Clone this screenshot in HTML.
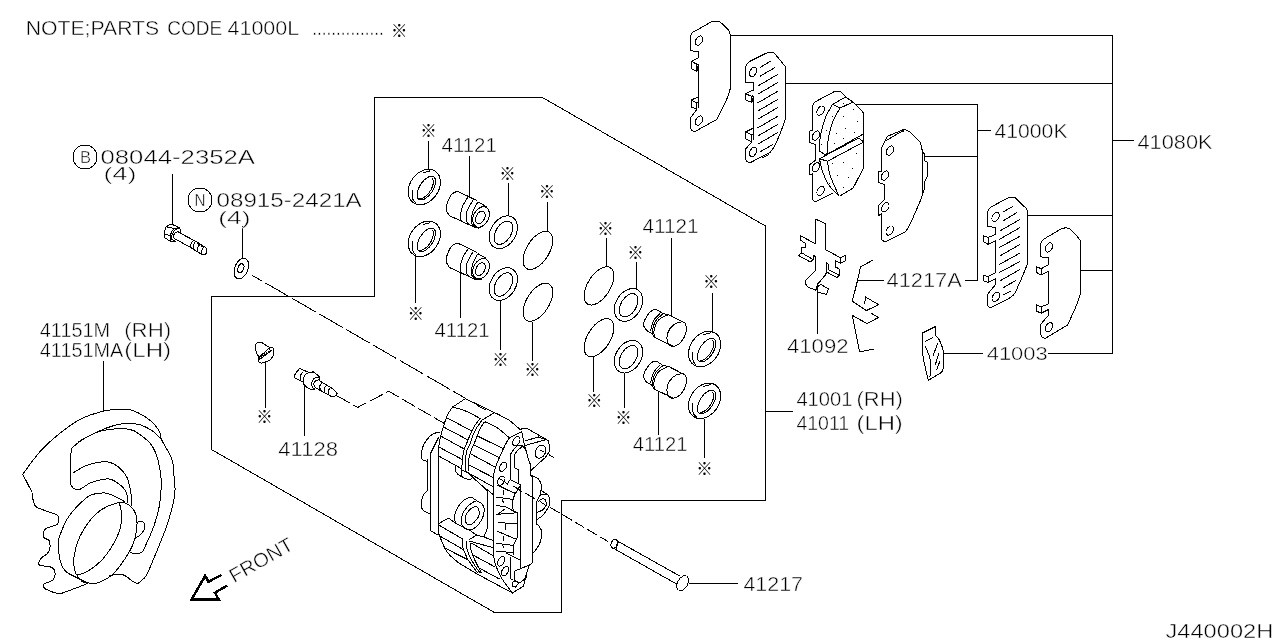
<!DOCTYPE html>
<html lang="en"><head><meta charset="utf-8"><title>Brake caliper parts diagram</title>
<style>
html,body{margin:0;padding:0;background:#fff}
body{width:1280px;height:640px;overflow:hidden}
svg{display:block;will-change:transform}
.l{fill:none;stroke:#000;stroke-width:1}
.t{font-family:"Liberation Sans","Noto Sans CJK JP",sans-serif;fill:#000;stroke:#fff;stroke-width:.45px}
.r{font-family:"Liberation Sans","Noto Sans CJK JP",sans-serif;fill:#000;font-size:16.5px;text-anchor:middle}
</style></head><body>
<svg width="1280" height="640" viewBox="0 0 1280 640" shape-rendering="crispEdges">
<g class="l">
<path d="M374.5 97.5 L542.5 97.5 L765.5 226 L765.5 500.5 L561.5 500.5 L561.5 612.5 L494.5 612.5 L211.5 449.5 L211.5 296.5 L374.5 296.5Z"/>
<path d="M730.5 35.5 L1112.5 35.5 L1112.5 353.5 L1048 353.5"/>
<path d="M785.5 83.5 L1112.5 83.5"/>
<path d="M1027.5 215.5 L1112.5 215.5"/>
<path d="M1080.5 270.5 L1112.5 270.5"/>
<path d="M1112.5 140.5 L1134 140.5"/>
<path d="M855 104.5 L977.5 104.5 L977.5 280.5 L964.5 280.5"/>
<path d="M924.5 156.5 L977.5 156.5"/>
<path d="M977.5 130.5 L990.5 130.5"/>
<path d="M857.5 280.5 L884 280.5"/>
<path d="M944 353.5 L982.5 353.5"/>
<path d="M765.5 411.5 L793 411.5"/>
<path d="M688.5 583.5 L738 583.5"/>
<path d="M172.5 174 L172.5 224.5"/>
<path d="M242.5 226 L242.5 257.5"/>
<path d="M103.5 360.5 L103.5 411"/>
<path d="M265.5 361 L265.5 407.5"/>
<path d="M304.5 386 L304.5 436"/>
<path d="M428.5 140.5 L428.5 169"/>
<path d="M469.5 156 L469.5 196"/>
<path d="M508.5 183 L508.5 216"/>
<path d="M547.5 202 L547.5 231"/>
<path d="M415.5 254.5 L415.5 302.5"/>
<path d="M460.5 267 L460.5 317.5"/>
<path d="M500.5 301 L500.5 349.5"/>
<path d="M532.5 321.5 L532.5 360.5"/>
<path d="M606.5 238 L606.5 267"/>
<path d="M636.5 262 L636.5 288.5"/>
<path d="M671.5 237.5 L671.5 315.5"/>
<path d="M712.5 292.5 L712.5 333"/>
<path d="M593.5 356.5 L593.5 391.5"/>
<path d="M624.5 373.5 L624.5 407.5"/>
<path d="M658.5 392 L658.5 434.5"/>
<path d="M704.5 418.5 L704.5 457.5"/>
<path d="M817.5 291.5 L817.5 333.5"/>
<path d="M22.7 474.2 C25.82 470.17 34.77 457.16 41.4 450 C48.03 442.84 55.86 436.46 62.5 431.25 C69.14 426.04 74.5 422.08 81.25 418.75 C88 415.42 97.04 412.81 103 411.25 C108.96 409.69 112.55 409.66 117 409.4 C121.45 409.14 126.28 409.18 129.7 409.7 C133.12 410.22 134.12 410.73 137.5 412.5 C140.88 414.27 146.35 417.18 150 420.3 C153.65 423.43 157.45 428 159.4 431.25 C161.35 434.5 159.62 435.11 161.7 439.8 C163.78 444.49 169.82 453.03 171.9 459.4 C173.98 465.77 173.68 472.9 174.2 478 C174.72 483.1 175.25 485.4 175 490 C174.75 494.6 174.27 499.1 172.7 505.6 C171.13 512.1 168.34 521.18 165.6 529 C162.86 536.82 159.37 544.93 156.25 552.5 C153.13 560.07 149.38 569.72 146.9 574.4 C144.43 579.08 142.97 579.1 141.4 580.6 C139.83 582.1 138.93 583.27 137.5 583.4 C136.07 583.53 134.88 582.7 132.8 581.4 C130.72 580.1 127.34 576.83 125 575.6 C122.66 574.37 121.35 573.93 118.75 574 C116.15 574.07 110.96 575.67 109.4 576"/>
<path d="M22.7 474.2 L32 492.2"/>
<path d="M32 492.2 C32.05 493 32.03 495.53 32.3 497 C32.57 498.47 32.87 499.3 33.6 501 C34.33 502.7 32.93 504.92 36.7 507.2 C40.48 509.48 52.6 512.73 56.25 514.7 C59.9 516.67 58.48 517.38 58.6 519 C58.73 520.62 59.22 522.73 57 524.4 C54.78 526.07 47.57 526.92 45.3 529 C43.03 531.08 42.75 534.93 43.4 536.9 C44.05 538.87 48.15 538.72 49.2 540.8 C50.25 542.88 50.08 547.2 49.7 549.4 C49.32 551.6 48.42 552.44 46.9 554 C45.38 555.56 41.85 556.92 40.6 558.75 C39.35 560.58 37.57 563.58 39.4 565 C41.23 566.42 49 566 51.6 567.3 C54.2 568.6 54.77 570.72 55 572.8 C55.23 574.88 54.75 577.97 53 579.8 C51.25 581.62 46.1 582.72 44.5 583.75 C42.9 584.78 43.18 585.09 43.4 586 C43.62 586.91 43.45 587.97 45.8 589.2 C48.15 590.43 54.57 592.82 57.5 593.4 C60.43 593.98 58.32 594.37 63.4 592.7 C68.48 591.03 83.9 584.95 88 583.4"/>
<path d="M78 442 C81.15 440.33 90.63 434.83 96.9 432 C103.17 429.17 110.42 426.43 115.6 425 C120.78 423.57 123.83 423.4 128 423.4 C132.17 423.4 136.43 423.69 140.6 425 C144.77 426.31 149.48 428.78 153 431.25 C156.52 433.72 160.25 438.38 161.7 439.8"/>
<path d="M71 485 C71 479.67 70.33 459.62 71 453 C71.67 446.38 71.21 448.53 75 445.3 C78.79 442.07 88.02 436.25 93.75 433.6 C99.48 430.95 103.41 430.1 109.4 429.4 C115.39 428.7 124.5 428.47 129.7 429.4 C134.9 430.33 136.95 432.35 140.6 435 C144.25 437.65 148.73 441.23 151.6 445.3 C154.47 449.37 156.23 453.95 157.8 459.4 C159.37 464.85 160.47 472.9 161 478 C161.53 483.1 161.27 485.4 161 490 C160.73 494.6 160.58 499.6 159.4 505.6 C158.22 511.6 156.51 518.7 153.9 526 C151.29 533.3 145.83 544.98 143.75 549.4 C141.67 553.82 142.69 551.73 141.4 552.5 C140.11 553.27 137.82 554 136 554 C134.18 554 131.42 552.75 130.5 552.5"/>
<path d="M136.7 522.8 C137.35 522.54 139.3 521.12 140.6 521.25 C141.9 521.38 143.85 522.31 144.5 523.6 C145.15 524.89 145.15 527.18 144.5 529 C143.85 530.82 142.15 532.93 140.6 534.5 C139.05 536.07 136.1 537.75 135.2 538.4"/>
<path d="M73.4 472.7 C75.23 471.65 80.48 468.1 84.4 466.4 C88.32 464.7 92.73 463.2 96.9 462.5 C101.07 461.8 105.76 461.42 109.4 462.2 C113.04 462.98 115.88 464.8 118.75 467.2 C121.62 469.6 124.64 472.8 126.6 476.6 C128.56 480.4 129.72 486.2 130.5 490 C131.28 493.8 131.12 496.8 131.25 499.4 C131.38 502 131.25 504.57 131.25 505.6"/>
<path d="M71 485 C71.53 485.62 72.75 488.02 74.2 488.75 C75.65 489.48 76.97 490.39 79.7 489.4 C82.43 488.41 86.72 484.47 90.6 482.8 C94.48 481.13 99.6 479.97 103 479.4 C106.4 478.83 108.12 478.47 111 479.4 C113.88 480.33 117.97 483.23 120.3 485 C122.63 486.77 123.83 488.12 125 490 C126.17 491.88 126.8 494.03 127.3 496.25 C127.8 498.47 127.88 502.12 128 503.3"/>
<path d="M125 501.7 C122.4 500.42 113.3 495.45 109.4 494 C105.5 492.55 105.25 492.5 101.6 493 C97.95 493.5 92.97 493.07 87.5 497 C82.03 500.93 73.43 509.95 68.75 516.6 C64.07 523.25 61.09 531.96 59.4 536.9 C57.71 541.84 58.5 542.35 58.6 546.25 C58.7 550.15 58.83 556.13 60 560.3 C61.17 564.47 62.83 568.38 65.6 571.25 C68.37 574.12 72.82 575.48 76.6 577.5 C80.38 579.52 86.35 582.42 88.3 583.4"/>
<path d="M120.3 502.5 C124.75 501.98 127.08 503.52 129.7 505.6 C132.32 507.68 134.83 511.1 136 515 C137.17 518.9 137.23 524.05 136.7 529 C136.17 533.95 134.75 539.74 132.8 544.7 C130.85 549.66 128.38 553.8 125 558.75 C121.62 563.7 117.18 570.36 112.5 574.4 C107.82 578.44 101.58 581.7 96.9 583 C92.22 584.3 87.01 582.6 84.4 582.2 C81.79 581.8 82.82 582.43 81.25 580.6 C79.68 578.77 76.17 575.42 75 571.25 C73.83 567.08 73.42 561.33 74.2 555.6 C74.98 549.88 76.97 542.88 79.7 536.9 C82.43 530.92 86.72 524.39 90.6 519.7 C94.48 515.01 98.05 511.62 103 508.75 C107.95 505.88 115.85 503.02 120.3 502.5Z"/>
<path d="M119.5 503.3 C119.9 505.75 122.32 512.4 121.9 518 C121.48 523.6 120.15 530.11 117 536.9 C113.85 543.69 107.92 553.02 103 558.75 C98.08 564.48 91.9 568.51 87.5 571.25 C83.1 573.99 78.42 574.54 76.6 575.2"/>
<path d="M465 398.5 L499.5 415 L509.7 420.5 L520.6 429.8"/>
<path d="M465 398.9 L452.5 407.1"/>
<path d="M452.5 407.1 C451.85 408.08 449.77 410.85 448.6 413 C447.43 415.15 446.42 417.53 445.5 420 C444.58 422.47 443.88 425.2 443.1 427.8 C442.32 430.4 441.45 433.07 440.8 435.6 C440.15 438.13 439.6 440.27 439.2 443 C438.8 445.73 438.53 450.5 438.4 452"/>
<path d="M452.5 407.1 C454.07 407.5 458.77 408.39 461.9 409.5 C465.02 410.61 468 412.13 471.25 413.75 C474.5 415.37 479.71 418.29 481.4 419.2"/>
<path d="M482.2 420 L494.7 412.6"/>
<path d="M484.5 421.6 C486.55 422.58 492.63 424.77 496.8 427.5 C500.97 430.23 507.38 436.25 509.5 438"/>
<path d="M477.1 405.7 L485.7 410"/>
<path d="M479.8 418.8 C478.9 420.04 475.95 423.72 474.4 426.25 C472.85 428.78 471.68 431.39 470.5 434 C469.32 436.61 468.35 439.4 467.3 441.9 C466.25 444.4 465.03 446.07 464.2 449 C463.37 451.93 462.68 456.18 462.3 459.5 C461.92 462.82 462.02 466.23 461.9 468.9 C461.78 471.57 461.65 474.4 461.6 475.5"/>
<path d="M482.2 420 C481.28 421.3 478.27 425.2 476.7 427.8 C475.13 430.4 473.97 432.73 472.8 435.6 C471.63 438.47 470.67 442.57 469.7 445 C468.73 447.43 467.72 447.65 467 450.2 C466.28 452.75 465.67 456.92 465.4 460.3 C465.13 463.68 465.4 468.8 465.4 470.5"/>
<path d="M484.5 421.6 C483.72 422.9 481.1 426.8 479.8 429.4 C478.5 432 477.73 434.6 476.7 437.2 C475.67 439.8 474.51 442.83 473.6 445 C472.69 447.17 472.1 447.65 471.25 450.2 C470.4 452.75 469.02 456.79 468.5 460.3 C467.98 463.81 468.17 469.43 468.1 471.25"/>
<path d="M447.4 418 L471.6 431"/>
<path d="M443.5 427 L468.1 440"/>
<path d="M440 435.6 L464.2 449"/>
<path d="M438.8 447 L462.3 459.5"/>
<path d="M438.8 456 L461.9 468.9"/>
<path d="M477.5 436 L503.7 449"/>
<path d="M473.6 445 L499.4 457.6"/>
<path d="M470.9 454 L495.5 467.3"/>
<path d="M468.9 465 L493.3 477.5"/>
<path d="M468.1 472.8 L493.3 486.9"/>
<path d="M521.8 431.8 C519.78 432.83 512.37 435.98 509.7 438 C507.03 440.02 506.97 441.87 505.8 443.9 C504.63 445.93 503.77 447.92 502.7 450.2 C501.63 452.48 500.32 455.5 499.4 457.6 C498.48 459.7 498.02 460.63 497.2 462.8 C496.38 464.97 495.13 468 494.5 470.6 C493.87 473.2 493.58 475.17 493.4 478.4 C493.22 481.63 493.4 488.07 493.4 490"/>
<path d="M493.4 490 L493.4 555.5"/>
<path d="M493.4 555.5 C493.83 557.25 494.68 562.29 496 566 C497.32 569.71 498.55 573.25 501.3 577.75 C504.05 582.25 510.63 590.46 512.5 593"/>
<path d="M438.4 452 L438.4 532.8"/>
<path d="M440 432.3 C439.48 432.33 438.47 431.95 436.9 432.5 C435.33 433.05 432.68 433.78 430.6 435.6 C428.52 437.42 425.77 441.23 424.4 443.4 C423.03 445.57 422.92 446.83 422.4 448.6 C421.88 450.37 421.25 452.18 421.25 454 C421.25 455.82 421.38 458.25 422.4 459.5 C423.42 460.75 426.57 461.17 427.4 461.5"/>
<path d="M427.5 459 L427.5 490.5"/>
<path d="M438.6 437.2 L430.6 453.3 L430.6 530.8 L438.4 535.2"/>
<path d="M427.5 490.5 C426.98 491.02 425.32 492.18 424.4 493.6 C423.48 495.02 422.52 497.18 422 499 C421.48 500.82 421.12 502.67 421.25 504.5 C421.38 506.33 421.28 508.43 422.8 510 C424.32 511.57 429.13 513.25 430.4 513.9"/>
<path d="M455.6 465.4 C455.53 466.12 454.8 468.2 455.2 469.7 C455.6 471.2 456.88 473.23 458 474.4 C459.12 475.57 461.25 476.32 461.9 476.7"/>
<path d="M461.9 470 C461.9 471 461.38 474.62 461.9 476 C462.42 477.38 463.7 477.72 465 478.3 C466.3 478.88 468.4 479.63 469.7 479.5 C471 479.37 472.28 477.83 472.8 477.5"/>
<path d="M461.9 470 L468.1 472.8"/>
<path d="M465.4 470.5 L487.4 490.9"/>
<path d="M481.4 485 L493.4 494.8"/>
<path d="M487.4 490.9 L487.4 527.2"/>
<path d="M487.4 527.2 C487.22 527.92 486.91 529.87 486.3 531.5 C485.69 533.13 484.18 536.08 483.75 537"/>
<path d="M520.6 429.8 L522.6 428.3 L526.9 428.3 L548 440.4 L549.5 446.25 L549.1 451.7 L545.6 457.2 L530.8 470.6"/>
<path d="M521.8 431.8 L524.5 445 L529.2 462 L530.8 465.2 L530.8 475.3 L532.3 477.7 L532.3 562.5"/>
<path d="M524.5 441.2 L538.2 436.9 L548 440.4"/>
<path d="M524.9 445.5 L544.8 440"/>
<path d="M513.6 445 L522.2 445.5 L524.9 448.6"/>
<ellipse cx="516.3" cy="441.2" rx="3.1" ry="4.9" transform="rotate(32 516.3 441.2)"/>
<ellipse cx="540.5" cy="451.7" rx="4.9" ry="6.9" transform="rotate(27 540.5 451.7)"/>
<path d="M540.2 450.5 L544 451.8"/>
<path d="M516.7 445.9 C515.73 447.2 511.92 451.35 510.9 453.7 C509.88 456.05 510.65 458.95 510.6 460"/>
<path d="M510.6 460 L510.6 480"/>
<path d="M522.2 446.25 C520.97 447.54 516.1 451.71 514.8 454 C513.5 456.29 514.47 459 514.4 460"/>
<path d="M514.4 460 L514.4 467.5 L518.7 469.8 L518.7 483.9"/>
<ellipse cx="503" cy="466.8" rx="3.1" ry="4.9" transform="rotate(32 503 466.8)"/>
<ellipse cx="501.2" cy="480.7" rx="3.1" ry="4.9" transform="rotate(32 501.2 480.7)"/>
<path d="M510.6 480 L520.6 485 L520.6 568.4"/>
<path d="M507.4 484.8 L509.3 480.4 L510.6 479.8"/>
<path d="M500.7 479.2 L507 483.5"/>
<path d="M499.5 485.9 L515.9 493.7"/>
<path d="M513.6 486.25 L522.2 491.6"/>
<path d="M520.6 485 C519.7 486.5 516.43 491.67 515.2 494 C513.97 496.33 513.67 496.85 513.2 499 C512.73 501.15 512.2 504.8 512.4 506.9 C512.6 509 513.5 510.58 514.4 511.6 C515.3 512.62 517.23 512.77 517.8 513"/>
<path d="M517.8 513 L517.8 536.7"/>
<path d="M517.8 536.7 C517.1 538.17 514.4 542.37 513.6 545.5 C512.8 548.63 513.1 553.83 513 555.5"/>
<path d="M496.8 485 L515.2 493.6"/>
<path d="M503.4 489.5 L503.4 494.8"/>
<path d="M496 497 L513.2 499.5"/>
<path d="M501.9 498.7 L503.4 502.6"/>
<path d="M496 505.3 L505.8 506.9 L516.7 512.7"/>
<path d="M504.6 509.2 L497.6 514.3 L517.5 512.7"/>
<path d="M498 522.5 L517.5 524"/>
<path d="M505.4 523.7 L505.4 529.6"/>
<path d="M496.6 530.9 L515.4 539"/>
<path d="M503.1 536 L503.1 541.4"/>
<path d="M496 543.2 L513.6 545.5"/>
<path d="M501.9 543.8 L503.7 547.9"/>
<path d="M496 551.4 L513.6 552.5"/>
<path d="M506 553 L520 560"/>
<path d="M476.7 500.6 C475.79 500.08 473.2 497.68 471.25 497.5 C469.3 497.32 466.82 498.46 465 499.5 C463.18 500.54 461.73 502 460.3 503.75 C458.87 505.5 457.37 507.66 456.4 510 C455.43 512.34 454.63 515.58 454.5 517.8 C454.37 520.02 455.42 522.38 455.6 523.3"/>
<path d="M476.7 501 C478.53 501.38 481.77 503.53 483 505.3 C484.23 507.07 484.37 509.12 484.1 511.6 C483.83 514.08 482.88 517.53 481.4 520.2 C479.92 522.87 477.28 525.98 475.2 527.6 C473.12 529.22 470.87 529.97 468.9 529.9 C466.93 529.83 464.7 528.57 463.4 527.2 C462.1 525.83 461.22 523.92 461.1 521.7 C460.98 519.48 461.78 516.23 462.7 513.9 C463.62 511.57 465.05 509.52 466.6 507.7 C468.15 505.88 470.32 504.12 472 503 C473.68 501.88 474.87 500.62 476.7 501Z"/>
<path d="M473.2 507.3 C475.02 506.4 476.92 506.47 477.9 507.7 C478.88 508.93 479.3 512.75 479.1 514.7 C478.9 516.65 478.01 517.77 476.7 519.4 C475.39 521.03 472.87 523.72 471.25 524.5 C469.63 525.28 467.98 524.95 467 524.1 C466.02 523.25 465.4 521.23 465.4 519.4 C465.4 517.57 465.7 515.12 467 513.1 C468.3 511.08 471.38 508.2 473.2 507.3Z"/>
<path d="M438.4 523.7 L448.6 518.2 L455.6 523.3 L469.7 530.3 L476.7 535.2 L483.75 537 L493.4 540.6"/>
<path d="M438.4 524.8 L462.7 539"/>
<path d="M468.9 539.8 L476.7 535.2"/>
<path d="M530.8 475.3 C532.1 475.95 536.78 477.38 538.6 479.2 C540.42 481.02 541.32 484.17 541.7 486.25 C542.08 488.33 541.03 490.79 540.9 491.7"/>
<path d="M540.9 489.7 L540.9 494 L548 494.8"/>
<path d="M540.9 490.5 L548 494.8"/>
<path d="M548 494.8 C548.25 495.5 549.25 497.38 549.5 499 C549.75 500.62 549.88 502.8 549.5 504.5 C549.12 506.2 548.37 507.37 547.2 509.2 C546.03 511.03 544.27 513.73 542.5 515.5 C540.73 517.27 537.58 519.08 536.6 519.8"/>
<path d="M540.9 494 C540.18 495.37 537.38 499.2 536.6 502.2 C535.83 505.2 536.31 510.37 536.25 512"/>
<path d="M536.25 512 L536.25 524"/>
<path d="M536.25 524 C536.64 524.27 537.69 524.43 538.6 525.6 C539.51 526.77 541.17 529.43 541.7 531 C542.23 532.57 542.08 533.07 541.8 535 C541.52 536.93 540.75 540.47 540 542.6 C539.25 544.73 538.47 546.05 537.3 547.8 C536.13 549.55 533.72 552.22 533 553.1"/>
<path d="M537.8 501.8 C538.45 501.33 540.47 499.33 541.7 499 C542.93 498.67 544.48 498.75 545.2 499.8 C545.92 500.85 546.45 503.6 546 505.3 C545.55 507 544 508.83 542.5 510 C541 511.17 537.92 511.92 537 512.3"/>
<path d="M540 501.5 L546.4 505.7"/>
<path d="M438.4 532.8 C438.8 533.83 439.7 536.4 440.8 539 C441.9 541.6 443.57 545.78 445 548.4 C446.43 551.02 447.37 552.48 449.4 554.7 C451.43 556.92 453.82 559.23 457.2 561.7 C460.58 564.17 466.07 567.28 469.7 569.5 C473.33 571.72 477.45 574.08 479 575"/>
<path d="M479 575 L512.5 593 L523.6 586 L526 575.4 L529.5 564.9 L533 562.5"/>
<path d="M439.2 525.4 L462.7 539"/>
<path d="M440.4 536.3 L463.4 549.6"/>
<path d="M445.5 548.4 L468.1 559.8"/>
<path d="M462.7 539 C462.7 540.32 462.32 544.57 462.7 546.9 C463.08 549.23 464.1 550.85 465 553 C465.9 555.15 466.02 556.52 468.1 559.8 C470.18 563.08 475.93 570.55 477.5 572.7"/>
<path d="M466.2 540.6 C466.27 541.78 466.02 545.09 466.6 547.7 C467.18 550.31 468.15 553 469.7 556.25 C471.25 559.5 474.08 564.34 475.9 567.2 C477.72 570.06 479.82 572.37 480.6 573.4"/>
<path d="M470.5 542.6 C470.57 543.7 470.52 547.05 470.9 549.2 C471.28 551.35 471.83 553.03 472.8 555.5 C473.77 557.97 475.27 561.13 476.7 564 C478.13 566.87 480.62 571.25 481.4 572.7"/>
<path d="M468.9 541 L493.4 547.7"/>
<path d="M471.25 543 L493.4 555.9"/>
<path d="M472.8 555 L495.5 567.2"/>
<path d="M478.3 567.6 L499.5 579"/>
<ellipse cx="501.1" cy="561.3" rx="3" ry="5.2" transform="rotate(30 501.1 561.3)"/>
<ellipse cx="505.1" cy="571" rx="3" ry="5.2" transform="rotate(30 505.1 571)"/>
<path d="M510.6 556.6 L510.6 579 L513.6 580.2"/>
<path d="M514.2 571.3 L529.5 564.9"/>
<path d="M514.2 571.3 L514.8 580.7"/>
<path d="M514.8 580.7 C515.67 580.98 518.13 582.89 520 582.4 C521.87 581.91 525 578.52 526 577.75"/>
<path d="M526 577.75 L527.2 571.3"/>
<path d="M512.5 582.4 L514.8 580.7 L519.5 582.4 L515.4 587 L512.5 586 L512.5 582.4"/>
<ellipse cx="424.3" cy="187" rx="14.3" ry="19.2" transform="rotate(35 424.3 187)"/>
<ellipse cx="426.3" cy="188.1" rx="6.8" ry="13.4" transform="rotate(33 426.3 188.1)"/>
<path d="M432.35 178.31 C432.43 178.44 432.69 178.82 432.83 179.11 C432.96 179.41 433.07 179.74 433.15 180.08 C433.23 180.43 433.29 180.81 433.32 181.21 C433.34 181.6 433.34 182.02 433.32 182.46 C433.29 182.89 433.24 183.35 433.15 183.81 C433.07 184.27 432.96 184.76 432.83 185.24 C432.7 185.73 432.54 186.23 432.35 186.72 C432.17 187.22 431.96 187.73 431.73 188.23 C431.5 188.73 431.25 189.23 430.97 189.72 C430.7 190.21 430.41 190.7 430.1 191.18 C429.79 191.65 429.46 192.12 429.12 192.57 C428.79 193.02 428.43 193.45 428.07 193.87 C427.7 194.28 427.33 194.68 426.95 195.05 C426.57 195.42 426.18 195.77 425.79 196.09 C425.4 196.41 425 196.7 424.61 196.96 C424.22 197.23 423.83 197.46 423.44 197.66 C423.06 197.86 422.67 198.04 422.3 198.17 C421.93 198.31 421.56 198.41 421.21 198.48 C420.86 198.54 420.51 198.58 420.19 198.57 C419.86 198.57 419.41 198.48 419.26 198.46"/>
<path d="M412.6 189.5 C412.6 190.42 412.53 193.33 412.6 195 C412.67 196.67 412.42 198.13 413 199.5 C413.58 200.87 415.58 202.58 416.1 203.2"/>
<path d="M422.8 172.8 L430.3 170.8"/>
<path d="M477.28 200.79 L457.59 191.22"/>
<path d="M457.59 191.22 C456.65 191.69 453.6 192.33 451.96 194.04 C450.32 195.75 448.7 198.96 447.74 201.49 C446.78 204.02 445.96 206.88 446.2 209.23 C446.43 211.57 448.66 214.5 449.15 215.56"/>
<path d="M449.15 215.56 L474.47 227.23"/>
<path d="M468.14 196.85 C467.15 198.56 463.52 203.53 462.23 207.12 C460.94 210.7 460.35 215.91 460.4 218.37 C460.45 220.83 462.16 221.3 462.51 221.88"/>
<path d="M473.06 200.08 C472.05 201.96 468.11 207.82 467.01 211.34 C465.91 214.85 466.03 218.95 466.45 221.18 C466.87 223.41 469.03 224.11 469.54 224.7"/>
<path d="M477.98 201.91 C477.09 203.6 473.69 208.59 472.64 212.04 C471.58 215.49 471.35 220.06 471.65 222.59 C471.96 225.12 474 226.46 474.47 227.23"/>
<path d="M477.98 201.91 L486.42 206.69"/>
<path d="M474.47 227.23 C475.05 227.37 476.81 228.03 477.98 228.07 C479.15 228.12 480.91 227.6 481.5 227.51"/>
<ellipse cx="481.08" cy="216.96" rx="7.6" ry="10.8" transform="rotate(27 481.08 216.96)"/>
<ellipse cx="480.37" cy="217.38" rx="4.3" ry="6.8" transform="rotate(27 480.37 217.38)"/>
<ellipse cx="503.3" cy="232.3" rx="12.6" ry="17.6" transform="rotate(32 503.3 232.3)"/>
<ellipse cx="503.4" cy="232.7" rx="7.7" ry="12.8" transform="rotate(31 503.4 232.7)"/>
<ellipse cx="537.9" cy="250.4" rx="11.3" ry="21.4" transform="rotate(32 537.9 250.4)"/>
<ellipse cx="599" cy="285.9" rx="11.3" ry="21.4" transform="rotate(32 599 285.9)"/>
<ellipse cx="628.5" cy="304.9" rx="12.6" ry="17.6" transform="rotate(32 628.5 304.9)"/>
<ellipse cx="628.6" cy="305.3" rx="7.7" ry="12.8" transform="rotate(31 628.6 305.3)"/>
<path d="M662.12 313.16 C660.95 312.51 657.2 309.3 655.09 309.23 C652.98 309.16 651.11 311.1 649.47 312.74 C647.82 314.38 646.25 317.03 645.25 319.07 C644.24 321.11 643.18 323.1 643.42 324.98 C643.65 326.85 645.29 328.96 646.65 330.32 C648.01 331.68 650.75 332.67 651.58 333.14"/>
<path d="M660.01 313.45 C658.96 314.62 655.28 317.55 653.68 320.48 C652.09 323.41 650.99 329.27 650.45 331.03"/>
<path d="M662.83 313.87 C661.65 315.02 657.55 318.02 655.79 320.76 C654.04 323.5 652.79 328.14 652.28 330.32 C651.76 332.5 652.63 333.25 652.7 333.84"/>
<path d="M668.45 314.57 C666.86 315.44 661.28 317.27 658.89 319.77 C656.5 322.28 654.86 326.69 654.11 329.62 C653.36 332.55 654.34 336.07 654.39 337.36"/>
<path d="M662.12 313.45 L668.45 314.57 L685.33 323.29"/>
<path d="M651.58 333.14 L654.39 337.36 L673.38 346.36"/>
<path d="M685.33 323.29 C686.17 324.93 686.83 328.68 686.17 331.73 C685.52 334.78 683.53 339.14 681.39 341.58 C679.26 344.01 675.6 346.08 673.38 346.36 C671.15 346.64 668.99 345.42 668.03 343.26 C667.07 341.11 666.72 336.47 667.61 333.42 C668.5 330.37 671.13 326.9 673.38 324.98 C675.63 323.06 679.12 322.17 681.11 321.88 C683.1 321.6 684.49 321.65 685.33 323.29Z"/>
<ellipse cx="704.6" cy="349" rx="14.3" ry="19.2" transform="rotate(35 704.6 349)"/>
<ellipse cx="706.6" cy="350.1" rx="6.8" ry="13.4" transform="rotate(33 706.6 350.1)"/>
<path d="M712.65 340.31 C712.73 340.44 712.99 340.82 713.13 341.11 C713.26 341.41 713.37 341.74 713.45 342.08 C713.53 342.43 713.59 342.81 713.62 343.21 C713.64 343.6 713.64 344.02 713.62 344.46 C713.59 344.89 713.54 345.35 713.45 345.81 C713.37 346.27 713.26 346.76 713.13 347.24 C713 347.73 712.84 348.23 712.65 348.72 C712.47 349.22 712.26 349.73 712.03 350.23 C711.8 350.73 711.55 351.23 711.27 351.72 C711 352.21 710.71 352.7 710.4 353.18 C710.09 353.65 709.76 354.12 709.42 354.57 C709.09 355.02 708.73 355.45 708.37 355.87 C708 356.28 707.63 356.68 707.25 357.05 C706.87 357.42 706.48 357.77 706.09 358.09 C705.7 358.41 705.3 358.7 704.91 358.96 C704.52 359.23 704.13 359.46 703.74 359.66 C703.36 359.86 702.97 360.04 702.6 360.17 C702.23 360.31 701.86 360.41 701.51 360.48 C701.16 360.54 700.81 360.58 700.49 360.57 C700.16 360.57 699.71 360.48 699.56 360.46"/>
<path d="M692.9 351.5 C692.9 352.42 692.83 355.33 692.9 357 C692.97 358.67 692.72 360.13 693.3 361.5 C693.88 362.87 695.88 364.58 696.4 365.2"/>
<path d="M703.1 334.8 L710.6 332.8"/>
<ellipse cx="424.3" cy="238.8" rx="14.3" ry="19.2" transform="rotate(35 424.3 238.8)"/>
<ellipse cx="426.3" cy="239.9" rx="6.8" ry="13.4" transform="rotate(33 426.3 239.9)"/>
<path d="M432.35 230.11 C432.43 230.24 432.69 230.62 432.83 230.91 C432.96 231.21 433.07 231.54 433.15 231.88 C433.23 232.23 433.29 232.61 433.32 233.01 C433.34 233.4 433.34 233.82 433.32 234.26 C433.29 234.69 433.24 235.15 433.15 235.61 C433.07 236.07 432.96 236.56 432.83 237.04 C432.7 237.53 432.54 238.03 432.35 238.52 C432.17 239.02 431.96 239.53 431.73 240.03 C431.5 240.53 431.25 241.03 430.97 241.52 C430.7 242.01 430.41 242.5 430.1 242.98 C429.79 243.45 429.46 243.92 429.12 244.37 C428.79 244.82 428.43 245.25 428.07 245.67 C427.7 246.08 427.33 246.48 426.95 246.85 C426.57 247.22 426.18 247.57 425.79 247.89 C425.4 248.21 425 248.5 424.61 248.76 C424.22 249.03 423.83 249.26 423.44 249.46 C423.06 249.66 422.67 249.84 422.3 249.97 C421.93 250.11 421.56 250.21 421.21 250.28 C420.86 250.34 420.51 250.38 420.19 250.37 C419.86 250.37 419.41 250.28 419.26 250.26"/>
<path d="M412.6 241.3 C412.6 242.22 412.53 245.13 412.6 246.8 C412.67 248.47 412.42 249.93 413 251.3 C413.58 252.67 415.58 254.38 416.1 255"/>
<path d="M422.8 224.6 L430.3 222.6"/>
<path d="M477.28 252.59 L457.59 243.02"/>
<path d="M457.59 243.02 C456.65 243.49 453.6 244.13 451.96 245.84 C450.32 247.55 448.7 250.76 447.74 253.29 C446.78 255.82 445.96 258.68 446.2 261.03 C446.43 263.37 448.66 266.3 449.15 267.36"/>
<path d="M449.15 267.36 L474.47 279.03"/>
<path d="M468.14 248.65 C467.15 250.36 463.52 255.33 462.23 258.92 C460.94 262.5 460.35 267.71 460.4 270.17 C460.45 272.63 462.16 273.1 462.51 273.68"/>
<path d="M473.06 251.88 C472.05 253.76 468.11 259.62 467.01 263.14 C465.91 266.65 466.03 270.75 466.45 272.98 C466.87 275.21 469.03 275.91 469.54 276.5"/>
<path d="M477.98 253.71 C477.09 255.4 473.69 260.39 472.64 263.84 C471.58 267.29 471.35 271.86 471.65 274.39 C471.96 276.92 474 278.26 474.47 279.03"/>
<path d="M477.98 253.71 L486.42 258.49"/>
<path d="M474.47 279.03 C475.05 279.17 476.81 279.83 477.98 279.87 C479.15 279.92 480.91 279.4 481.5 279.31"/>
<ellipse cx="481.08" cy="268.76" rx="7.6" ry="10.8" transform="rotate(27 481.08 268.76)"/>
<ellipse cx="480.37" cy="269.18" rx="4.3" ry="6.8" transform="rotate(27 480.37 269.18)"/>
<ellipse cx="503.3" cy="284.1" rx="12.6" ry="17.6" transform="rotate(32 503.3 284.1)"/>
<ellipse cx="503.4" cy="284.5" rx="7.7" ry="12.8" transform="rotate(31 503.4 284.5)"/>
<ellipse cx="537.9" cy="302.2" rx="11.3" ry="21.4" transform="rotate(32 537.9 302.2)"/>
<ellipse cx="599" cy="337.7" rx="11.3" ry="21.4" transform="rotate(32 599 337.7)"/>
<ellipse cx="628.5" cy="356.7" rx="12.6" ry="17.6" transform="rotate(32 628.5 356.7)"/>
<ellipse cx="628.6" cy="357.1" rx="7.7" ry="12.8" transform="rotate(31 628.6 357.1)"/>
<path d="M662.12 364.96 C660.95 364.31 657.2 361.1 655.09 361.03 C652.98 360.96 651.11 362.9 649.47 364.54 C647.82 366.18 646.25 368.83 645.25 370.87 C644.24 372.91 643.18 374.9 643.42 376.78 C643.65 378.65 645.29 380.76 646.65 382.12 C648.01 383.48 650.75 384.47 651.58 384.94"/>
<path d="M660.01 365.25 C658.96 366.42 655.28 369.35 653.68 372.28 C652.09 375.21 650.99 381.07 650.45 382.83"/>
<path d="M662.83 365.67 C661.65 366.82 657.55 369.82 655.79 372.56 C654.04 375.3 652.79 379.94 652.28 382.12 C651.76 384.3 652.63 385.05 652.7 385.64"/>
<path d="M668.45 366.37 C666.86 367.24 661.28 369.07 658.89 371.57 C656.5 374.08 654.86 378.49 654.11 381.42 C653.36 384.35 654.34 387.87 654.39 389.16"/>
<path d="M662.12 365.25 L668.45 366.37 L685.33 375.09"/>
<path d="M651.58 384.94 L654.39 389.16 L673.38 398.16"/>
<path d="M685.33 375.09 C686.17 376.73 686.83 380.48 686.17 383.53 C685.52 386.58 683.53 390.94 681.39 393.38 C679.26 395.81 675.6 397.88 673.38 398.16 C671.15 398.44 668.99 397.22 668.03 395.06 C667.07 392.91 666.72 388.27 667.61 385.22 C668.5 382.17 671.13 378.7 673.38 376.78 C675.63 374.86 679.12 373.97 681.11 373.68 C683.1 373.4 684.49 373.45 685.33 375.09Z"/>
<ellipse cx="704.6" cy="400.8" rx="14.3" ry="19.2" transform="rotate(35 704.6 400.8)"/>
<ellipse cx="706.6" cy="401.9" rx="6.8" ry="13.4" transform="rotate(33 706.6 401.9)"/>
<path d="M712.65 392.11 C712.73 392.24 712.99 392.62 713.13 392.91 C713.26 393.21 713.37 393.54 713.45 393.88 C713.53 394.23 713.59 394.61 713.62 395.01 C713.64 395.4 713.64 395.82 713.62 396.26 C713.59 396.69 713.54 397.15 713.45 397.61 C713.37 398.07 713.26 398.56 713.13 399.04 C713 399.53 712.84 400.03 712.65 400.52 C712.47 401.02 712.26 401.53 712.03 402.03 C711.8 402.53 711.55 403.03 711.27 403.52 C711 404.01 710.71 404.5 710.4 404.98 C710.09 405.45 709.76 405.92 709.42 406.37 C709.09 406.82 708.73 407.25 708.37 407.67 C708 408.08 707.63 408.48 707.25 408.85 C706.87 409.22 706.48 409.57 706.09 409.89 C705.7 410.21 705.3 410.5 704.91 410.76 C704.52 411.03 704.13 411.26 703.74 411.46 C703.36 411.66 702.97 411.84 702.6 411.97 C702.23 412.11 701.86 412.21 701.51 412.28 C701.16 412.34 700.81 412.38 700.49 412.37 C700.16 412.37 699.71 412.28 699.56 412.26"/>
<path d="M692.9 403.3 C692.9 404.22 692.83 407.13 692.9 408.8 C692.97 410.47 692.72 411.93 693.3 413.3 C693.88 414.67 695.88 416.38 696.4 417"/>
<path d="M703.1 386.6 L710.6 384.6"/>
<path d="M690.6 36.9 L691.2 34.2 L692.5 32.5 L711.25 21.9 L713.8 21.4 L718.75 21.5 L720.6 22.4 L727.5 28.75 L729.7 32.3 L730.6 36.5"/>
<path d="M730.6 36.5 L730.6 87.5"/>
<path d="M730.6 87.5 C729.98 89.38 729.18 93.43 726.9 98.75 C724.62 104.07 718.57 115.96 716.9 119.4"/>
<path d="M716.9 119.4 L695 131.5"/>
<path d="M695 131.5 C694.5 131.33 692.73 131.17 692 130.5 C691.27 129.83 690.83 128 690.6 127.5"/>
<path d="M690.6 127.5 L690.6 117.5 L696.9 109.4 L691.25 106.9 L691.25 100 L698.5 96.9 L698.5 64.4 L696.9 71.25 L691.25 68.75 L691.25 61.25 L698.75 57.5 L698.75 51.9 L690.6 50.6 L690.6 36.9"/>
<path d="M691.25 61.25 L696.5 64 L698.5 64.4"/>
<path d="M696.5 64 L696.9 71.25"/>
<path d="M691.25 100 L696.5 102.7 L698.5 102"/>
<path d="M696.5 102.7 L696.9 109.4"/>
<path d="M698.5 96.9 L698.5 107.5"/>
<ellipse cx="699" cy="40.6" rx="3.2" ry="5" transform="rotate(30 699 40.6)"/>
<ellipse cx="699" cy="120.6" rx="3.2" ry="5" transform="rotate(30 699 120.6)"/>
<path d="M745.6 68.1 L746.5 64.4 L750 61.25 L766.25 53.1 L769.4 52.3 L774.4 53.1 L785 66.25 L785.6 68.75"/>
<path d="M785.6 69 L785.6 118.75"/>
<path d="M785.6 118.75 C784.67 121.25 781.98 128.96 780 133.75 C778.02 138.54 775.42 144.38 773.75 147.5 C772.08 150.62 770.62 151.67 770 152.5"/>
<path d="M770 152.5 L750.5 162.5"/>
<path d="M750.5 162.5 C749.92 162.33 747.82 162.17 747 161.5 C746.18 160.83 745.83 159 745.6 158.5"/>
<path d="M745.6 158.5 L745.6 149 L751.9 141.9 L745.6 138.75 L745.6 131.9 L753.5 128.1 L753.5 96 L751.9 102.5 L745.6 100 L745.6 93.75 L753.5 90 L753.5 82.5 L745.6 82.5 L745.6 68.1"/>
<path d="M745.6 93.75 L751.3 96.3 L753.5 95.8"/>
<path d="M751.3 96.3 L751.9 102.5"/>
<path d="M745.6 131.9 L751.3 134.5 L753.5 134"/>
<path d="M751.3 134.5 L751.9 141.9"/>
<path d="M753.5 128.1 L753.5 139.5"/>
<ellipse cx="753.1" cy="71.9" rx="3.2" ry="5" transform="rotate(30 753.1 71.9)"/>
<ellipse cx="753.1" cy="151.9" rx="3.2" ry="5" transform="rotate(30 753.1 151.9)"/>
<path d="M760 67.5 L770.6 61.25"/>
<path d="M760 76.25 L775 67.5"/>
<path d="M757.5 86.25 L777.75 74.4"/>
<path d="M757.5 94.4 L777.75 82.5"/>
<path d="M757.5 103.1 L777.75 91.2"/>
<path d="M757.5 111.25 L777.75 99.4"/>
<path d="M757.5 119.4 L777.75 107.5"/>
<path d="M757.5 128.1 L777.75 116.2"/>
<path d="M757.5 136.25 L777.75 124.4"/>
<path d="M757.5 144.4 L777.75 132.5"/>
<path d="M760 151.9 L773 144.4"/>
<path d="M762.5 157.8 L768.75 154.5"/>
<path d="M812.5 106.9 L813.5 103.5 L816.25 101.25 L833.75 91.9 L837 91.1 L840 91.25 L845 96.25"/>
<path d="M845 96.25 L855 103.75 L863.75 113.1 L863.75 167.5 L853.1 188.1 L839.4 196.25"/>
<path d="M812.5 106.9 L812.5 130 L809.4 131.25 L809.4 142.5 L815.6 144.4 L815.6 160 L809.4 165 L809.4 175 L812.5 173.75 L812.5 198.75"/>
<path d="M812.5 198.75 C812.67 199.09 812.88 200.34 813.5 200.8 C814.12 201.26 815.79 201.38 816.25 201.5"/>
<path d="M816.25 201.5 L833.1 193.1"/>
<ellipse cx="820.6" cy="110.6" rx="3.2" ry="5" transform="rotate(30 820.6 110.6)"/>
<ellipse cx="816" cy="135.6" rx="3.2" ry="5" transform="rotate(30 816 135.6)"/>
<ellipse cx="816" cy="167.25" rx="3.2" ry="5" transform="rotate(30 816 167.25)"/>
<ellipse cx="820.6" cy="190.9" rx="3.2" ry="5" transform="rotate(30 820.6 190.9)"/>
<path d="M832.5 104.4 L845.6 96.9 L853.1 101.9 L840 108.1 L832.5 104.4"/>
<path d="M832.5 104.4 C831.25 106.79 827.08 113.03 825 118.75 C822.92 124.47 820.93 133.33 820 138.75 C819.07 144.17 819.5 149.17 819.4 151.25"/>
<path d="M819.4 151.25 L825 154.4 L826.9 154.4"/>
<path d="M840 108.1 C838.75 110.5 834.48 117.18 832.5 122.5 C830.52 127.82 829.03 134.68 828.1 140 C827.17 145.32 827.1 152 826.9 154.4"/>
<path d="M826.9 154.4 L863.75 133.75"/>
<path d="M819.4 158.75 L858.5 138.1 L863.75 141.9"/>
<path d="M819.4 158.75 L827.5 161.25 L863.75 141.9"/>
<path d="M819.4 158.75 C819.92 160.83 820.94 166.88 822.5 171.25 C824.06 175.62 825.93 180.83 828.75 185 C831.57 189.17 837.62 194.38 839.4 196.25"/>
<path d="M827.5 161.25 C827.92 163.54 828.12 169.28 830 175 C831.88 180.72 837.29 192.17 838.75 195.6"/>
<path d="M842.9 103.2 L843.9 103.2"/>
<path d="M853.1 109.9 L854.1 109.9"/>
<path d="M832 116.5 L833 116.5"/>
<path d="M842.9 116.3 L843.9 116.3"/>
<path d="M857 121 L858 121"/>
<path d="M825.8 130.3 L826.8 130.3"/>
<path d="M844.9 128.2 L845.9 128.2"/>
<path d="M835.7 133.5 L836.7 133.5"/>
<path d="M854 132.2 L855 132.2"/>
<path d="M821.4 144.3 L822.4 144.3"/>
<path d="M834 143.2 L835 143.2"/>
<path d="M843.1 138.1 L844.1 138.1"/>
<path d="M855.9 153.1 L856.9 153.1"/>
<path d="M831.5 163.9 L832.5 163.9"/>
<path d="M842.9 162.4 L843.9 162.4"/>
<path d="M852 168.2 L853 168.2"/>
<path d="M836.8 175.3 L837.8 175.3"/>
<path d="M847.9 177.6 L848.9 177.6"/>
<path d="M829 183.2 L830 183.2"/>
<path d="M842.8 187.5 L843.8 187.5"/>
<path d="M881.9 146.9 L887.5 136.25 L902.5 130 L906 129.9 L910 131.9 L920.6 142.5 L922.5 151.9"/>
<path d="M922.5 151.9 L924.4 153.75 L924.75 160.6 L927.5 162.5 L927.5 176.25 L925 181.25 L924.4 188.75 L921.25 198.75"/>
<path d="M921.25 198.75 C919.06 203.64 911.23 222.38 908.1 228.1 C904.98 233.82 903.43 232.27 902.5 233.1"/>
<path d="M902.5 233.1 L886.25 241.5"/>
<path d="M886.25 241.5 C885.67 241.37 883.63 241.27 882.8 240.7 C881.97 240.13 881.51 238.53 881.25 238.1"/>
<path d="M881.25 238.1 L881.25 213.75 L878.5 215.6 L878.5 205.6 L884.4 199.4 L884.4 184.4 L878.75 182.5 L878.75 171.9 L881.25 171.25 L881.9 146.9"/>
<path d="M886.25 140.6 L897.5 133.75 L904.4 130.6"/>
<path d="M922.5 152 L922.5 196"/>
<ellipse cx="890" cy="150.6" rx="3.2" ry="5" transform="rotate(30 890 150.6)"/>
<ellipse cx="885" cy="175.6" rx="3.2" ry="5" transform="rotate(30 885 175.6)"/>
<ellipse cx="885.3" cy="207.3" rx="3.2" ry="5" transform="rotate(30 885.3 207.3)"/>
<ellipse cx="889.75" cy="230.6" rx="3.2" ry="5" transform="rotate(30 889.75 230.6)"/>
<path d="M987.5 213.1 L988.4 209.5 L991.25 206.9 L1007.5 198.1 L1011.5 197.3 L1015 197.5 L1022.5 205 L1026.9 208.75 L1027.5 213.1"/>
<path d="M1027.5 213.1 L1027.5 263.75"/>
<path d="M1027.5 263.75 C1026.67 265.83 1024.68 271.14 1022.5 276.25 C1020.32 281.36 1015.75 291.38 1014.4 294.4"/>
<path d="M1014.4 294.4 L1007.5 299.4 L991.25 307.5"/>
<path d="M991.25 307.5 C990.83 307.38 989.33 307.32 988.7 306.8 C988.08 306.28 987.7 304.8 987.5 304.4"/>
<path d="M987.5 304.4 L987.5 294.4 L995.6 284.4 L995.6 278.75 L988.1 282.5 L983.1 280.6 L983.1 275 L988.1 276.6 L995.6 272.5 L995.6 240.6 L988.1 244.4 L983.1 241.25 L983.1 235.6 L988.1 237.5 L995.6 234.4 L995.6 227.5 L987.5 226.25 L987.5 213.1"/>
<path d="M988.1 237.5 L988.1 244.4"/>
<path d="M988.1 276.6 L988.1 282.5"/>
<ellipse cx="995.6" cy="216.9" rx="3.2" ry="5" transform="rotate(30 995.6 216.9)"/>
<ellipse cx="995.9" cy="296.9" rx="3.2" ry="5" transform="rotate(30 995.9 296.9)"/>
<path d="M1002.5 212.25 L1013.1 206.25"/>
<path d="M1002.5 221.25 L1016.9 212.5"/>
<path d="M999.4 231.25 L1020 219.4"/>
<path d="M999.4 239.4 L1020 227.5"/>
<path d="M999.4 247.5 L1020 236.25"/>
<path d="M999.4 256.25 L1020 244.4"/>
<path d="M999.4 264.4 L1020 253.1"/>
<path d="M999.4 272.5 L1020 261.5"/>
<path d="M999.4 281.25 L1020 269.4"/>
<path d="M1002.5 288.1 L1015.6 280.6"/>
<path d="M1003.1 295 L1010.6 291.25"/>
<path d="M1040.6 245 L1041.3 241.8 L1043.5 239.3 L1061.25 228.75 L1065 227.9 L1068.75 228.1 L1076.25 235 L1080 240 L1080.6 244"/>
<path d="M1080.6 244 L1080.6 293.75"/>
<path d="M1080.6 293.75 C1079.67 296.25 1077.18 303.54 1075 308.75 C1072.82 313.96 1068.75 322.29 1067.5 325"/>
<path d="M1067.5 325 L1045.3 338.4"/>
<path d="M1045.3 338.4 C1044.75 338.2 1042.78 337.97 1042 337.2 C1041.22 336.43 1040.83 334.32 1040.6 333.75"/>
<path d="M1040.6 333.75 L1040.6 324.4 L1048.75 315 L1048.75 309.4 L1041.25 313.1 L1036.5 311.25 L1036.5 305 L1041.25 306.9 L1048.75 303.75 L1048.75 271.25 L1041.25 275 L1036.5 272.5 L1036.5 266.9 L1041.25 268.7 L1048.75 264.4 L1048.75 257.5 L1040.6 256.9 L1040.6 245"/>
<path d="M1041.25 268.7 L1041.25 275"/>
<path d="M1041.25 306.9 L1041.25 313.1"/>
<ellipse cx="1049" cy="247.5" rx="3.2" ry="5" transform="rotate(30 1049 247.5)"/>
<ellipse cx="1049" cy="327.3" rx="3.2" ry="5" transform="rotate(30 1049 327.3)"/>
<path d="M922.4 348.4 L922.4 333 L935.4 326.6 L935.4 335.2 L938.4 338.3"/>
<path d="M938.4 338.3 C938.92 339.4 940.62 342.45 941.5 344.9 C942.38 347.35 943.33 351.65 943.7 353"/>
<path d="M943.7 353 L943.7 367.2 L941.7 372.3 L928.3 380.4 L923.2 358.6 L922.4 348.4"/>
<path d="M925.2 341.5 L932.8 337.8"/>
<path d="M925.2 345.9 C925.97 347.85 928.87 353.97 929.8 357.6 C930.73 361.23 930.8 364.4 930.8 367.7 C930.8 371 929.97 375.78 929.8 377.4"/>
<path d="M937.9 342.8 L933.1 355.5"/>
<path d="M938.9 353 L935.2 365.2"/>
<path d="M940 361.1 L936.6 369.7"/>
<path d="M815.4 219.1 L825.7 223.6 L825.7 249.7 L840.5 257.8 L845.4 255.3 L845.4 260.6 L840.5 263.4 L840.5 257.8"/>
<path d="M840.5 263.4 L835.6 260.9 L835.6 267 L839.4 269.1 L839.4 275.4 L837 277.5 L826.4 271.9 L826.4 262.7 L828.8 264.5 L828.8 270 L839.4 275.4"/>
<path d="M826.4 271.9 L825.7 274.7 L817.3 284.5 L815.9 290.2"/>
<path d="M815.9 290.2 C814.37 289.5 808.35 287.65 806.7 286 C805.05 284.35 806.12 281.25 806 280.3"/>
<path d="M806 280.3 L815.4 270.5 L815.4 256.4 L813 255.3 L813 259.5 L810.2 262 L798.3 255.3 L801.8 252.9 L801.8 247.7 L805 247.7 L805 243 L800.4 240.2 L800.4 235.6 L815.2 243.75 L815.4 219.1"/>
<path d="M801.8 252.9 L813 259.5"/>
<path d="M817.3 286.7 L820.8 284.5 L828.5 288.8 L826.4 294.4 L818 292.3 L817.3 286.7"/>
<path d="M872.6 260.3 L860.6 266.8 L857.5 280.6 L852.3 301.2 L866.4 310.5 L878.6 304.7 L865.2 296.75 L864.9 304.3"/>
<path d="M871.25 313.25 L878.6 317.4 L867 323.6 L852.3 315.3 L859.6 351.75 L873.8 349.2"/>
<path d="M164.24 237.37 L164.24 231.46 L166.21 226.86 L170.48 224.24 L174.41 225.22 L179.01 227.52 L180.65 229.82 L180.65 233.43"/>
<path d="M164.24 237.37 L170.15 241.31 L175.73 241.31"/>
<path d="M166.21 226.86 L174.09 228.51 L179.01 227.52"/>
<path d="M164.24 233.76 L170.15 235.73 L170.15 241.31"/>
<path d="M170.15 235.73 L172.12 230.8 L174.09 228.51"/>
<path d="M179.01 227.85 C178.46 228.12 176.77 228.62 175.73 229.49 C174.69 230.37 173.48 231.84 172.77 233.1 C172.06 234.36 171.57 235.95 171.46 237.04 C171.35 238.14 171.41 238.96 172.12 239.67 C172.83 240.38 175.13 241.04 175.73 241.31"/>
<path d="M177.7 231.46 C177.21 231.79 175.45 232.61 174.74 233.43 C174.03 234.25 173.48 235.51 173.43 236.38 C173.38 237.26 173.81 238.08 174.41 238.68 C175.02 239.28 176.6 239.78 177.04 240"/>
<path d="M177.7 231.46 L180.65 233.43 L195.75 241.31 L206.59 248.2"/>
<path d="M177.04 240 L190.17 247.22 L201.34 254.24"/>
<path d="M193.46 240.85 C193.07 241.25 191.71 242.22 191.16 243.28 C190.61 244.34 190.34 246.56 190.17 247.22"/>
<path d="M195.75 241.31 C195.43 241.8 194.17 242.98 193.78 244.26 C193.4 245.54 193.51 248.2 193.46 248.99"/>
<path d="M200.02 244.13 C199.61 244.7 197.99 246.3 197.53 247.55 C197.07 248.79 197.31 250.94 197.26 251.62"/>
<path d="M203.96 246.56 C203.58 247.22 202.1 249.22 201.66 250.5 C201.23 251.78 201.39 253.62 201.34 254.24"/>
<path d="M206.59 248.2 C206.65 248.64 207.18 249.82 206.98 250.83 C206.79 251.84 206.35 253.63 205.41 254.24 C204.47 254.86 202.01 254.46 201.34 254.51"/>
<path d="M196.74 243.74 L198.84 244.26"/>
<path d="M200.55 245.91 L202.78 246.63"/>
<ellipse cx="241.3" cy="268.6" rx="6.6" ry="10.8" transform="rotate(22 241.3 268.6)"/>
<ellipse cx="240.8" cy="268.2" rx="2.8" ry="4.6" transform="rotate(22 240.8 268.2)"/>
<path d="M259.06 357.19 C258.7 356.56 257.47 354.9 256.88 353.44 C256.28 351.98 255.68 349.87 255.47 348.44 C255.26 347.01 255.29 345.78 255.62 344.84 C255.96 343.91 256.72 343.26 257.5 342.81 C258.28 342.37 259.32 342.08 260.31 342.19 C261.3 342.29 262.34 342.79 263.44 343.44 C264.53 344.09 265.83 345.47 266.88 346.09 C267.92 346.72 269.22 347.01 269.69 347.19"/>
<path d="M269.69 347.19 C270.13 347.19 271.69 346.8 272.34 347.19 C272.99 347.58 273.39 348.49 273.59 349.53 C273.8 350.57 273.72 352.32 273.59 353.44 C273.46 354.56 273.28 355.29 272.81 356.25 C272.34 357.21 271.56 358.44 270.78 359.22 C270 360 269.09 360.44 268.12 360.94 C267.16 361.43 266.17 361.82 265 362.19 C263.83 362.55 262.08 363.12 261.09 363.12 C260.1 363.12 259.53 362.76 259.06 362.19 C258.59 361.61 258.28 360.52 258.28 359.69 C258.28 358.85 258.93 357.6 259.06 357.19"/>
<path d="M259.06 357.19 L270 347.5"/>
<path d="M258.91 360 L272.5 349.69"/>
<path d="M294.69 374.53 L299.38 368.28 L308.75 372.5"/>
<path d="M294.69 374.53 L294.69 377.66 L303.28 382.34"/>
<path d="M308.75 372.5 C308.1 372.97 305.76 374.06 304.84 375.31 C303.93 376.56 303.41 378.44 303.28 380 C303.15 381.56 303.93 383.91 304.06 384.69"/>
<path d="M303.28 371.88 C302.84 372.45 301.15 373.91 300.62 375.31 C300.1 376.72 300.23 379.48 300.16 380.31"/>
<path d="M299.38 368.59 L294.69 374.84"/>
<path d="M308.75 372.5 L313.44 371.88 L319.69 376.88 L319.69 380.78"/>
<path d="M304.06 384.69 C304.84 385.34 307.19 387.76 308.75 388.59 C310.31 389.43 312.4 389.82 313.44 389.69 C314.48 389.56 314.74 388.12 315 387.81"/>
<path d="M319.69 376.88 C318.78 377.14 315.57 377.4 314.22 378.44 C312.86 379.48 311.82 381.56 311.56 383.12 C311.3 384.69 312.08 386.98 312.66 387.81 C313.23 388.65 314.61 388.07 315 388.12"/>
<path d="M318.91 379.69 C318.39 379.87 316.64 380.08 315.78 380.78 C314.92 381.48 313.93 382.94 313.75 383.91 C313.57 384.87 314.53 386.12 314.69 386.56"/>
<path d="M319.38 380.78 L333.75 389.38 L337.19 393.75 L336.56 395.62 L332.19 396.88 L315 387.5"/>
<path d="M322.03 382.81 C321.64 383.39 319.95 385.03 319.69 386.25 C319.43 387.47 320.34 389.51 320.47 390.16"/>
<path d="M326.41 385.22 C326.02 385.79 324.32 387.43 324.06 388.66 C323.8 389.88 324.71 391.91 324.84 392.56"/>
<path d="M330.62 387.54 C330.23 388.11 328.54 389.75 328.28 390.98 C328.02 392.2 328.93 394.23 329.06 394.88"/>
<ellipse cx="614.38" cy="543.82" rx="3.2" ry="4.6" transform="rotate(25 614.38 543.82)"/>
<path d="M616.13 540.32 L680.45 576.41"/>
<path d="M613.29 548.19 L677.39 584.51"/>
<path d="M619.19 542.07 C618.76 542.58 616.93 543.89 616.57 545.13 C616.21 546.37 616.93 548.78 617.01 549.51"/>
<ellipse cx="682.64" cy="583.2" rx="5" ry="8.2" transform="rotate(28 682.64 583.2)"/>
<circle cx="85" cy="157" r="12"/>
<circle cx="200" cy="200" r="12"/>
<path d="M252.5 275.5 L466.25 398.75" stroke-dasharray="27 4" stroke-dashoffset="16"/>
<path d="M337.5 396 L357.5 407.5 L388.75 391.25 L444.3 423.5" stroke-dasharray="14.5 4"/>
<path d="M524.9 492.8 L534.7 498.7" stroke-dasharray="30 0"/>
<path d="M549.9 507.3 L607.8 541.4" stroke-dasharray="11 3.5"/>
<path d="M549.1 454.8 L553.8 457.6" stroke-dasharray="30 0"/>
<path d="M259.22 358.59 L271.56 348.75" stroke-dasharray="1.2 1" stroke-width="2"/>
<path d="M221.6 575 L208.4 581.7 L205.2 575.8 L191.6 599.4 L218.6 599.4 L215 592.7 L227 585.6" stroke-width="2.5"/>
</g>
<text class="t" transform="translate(234 583.2) rotate(-29.7)" font-size="19.8" textLength="70" lengthAdjust="spacingAndGlyphs">FRONT</text>
<g class="t">
<text x="25.8" y="34.9" font-size="20.64" textLength="133.31" lengthAdjust="spacingAndGlyphs">NOTE;PARTS</text>
<text x="167.2" y="34.9" font-size="20.64" textLength="55" lengthAdjust="spacingAndGlyphs">CODE</text>
<text x="227.5" y="34.9" font-size="20.64" textLength="71.7" lengthAdjust="spacingAndGlyphs">41000L</text>
<text x="100.5" y="163.75" font-size="19.99" textLength="154.51" lengthAdjust="spacingAndGlyphs">08044-2352A</text>
<text x="103.5" y="180" font-size="18.9" textLength="33.01" lengthAdjust="spacingAndGlyphs">(4)</text>
<text x="216.5" y="206.75" font-size="19.62" textLength="145.21" lengthAdjust="spacingAndGlyphs">08915-2421A</text>
<text x="218.25" y="223.75" font-size="19.26" textLength="32.25" lengthAdjust="spacingAndGlyphs">(4)</text>
<text x="39.8" y="336.6" font-size="19.91" textLength="70.39" lengthAdjust="spacingAndGlyphs">41151M</text>
<text x="124.2" y="336.6" font-size="19.91" textLength="46.91" lengthAdjust="spacingAndGlyphs">(RH)</text>
<text x="39.8" y="356.6" font-size="19.77" textLength="83.49" lengthAdjust="spacingAndGlyphs">41151MA</text>
<text x="124.2" y="356.6" font-size="19.77" textLength="46.91" lengthAdjust="spacingAndGlyphs">(LH)</text>
<text x="278.25" y="455.75" font-size="19.99" textLength="59.74" lengthAdjust="spacingAndGlyphs">41128</text>
<text x="441.6" y="151.9" font-size="20.2" textLength="55.19" lengthAdjust="spacingAndGlyphs">41121</text>
<text x="434.6" y="336.7" font-size="19.91" textLength="54.89" lengthAdjust="spacingAndGlyphs">41121</text>
<text x="642.6" y="232.8" font-size="19.77" textLength="55.89" lengthAdjust="spacingAndGlyphs">41121</text>
<text x="632.8" y="450.7" font-size="20.06" textLength="54.69" lengthAdjust="spacingAndGlyphs">41121</text>
<text x="994.5" y="138" font-size="20.35" textLength="73" lengthAdjust="spacingAndGlyphs">41000K</text>
<text x="1137.5" y="149" font-size="21.08" textLength="75" lengthAdjust="spacingAndGlyphs">41080K</text>
<text x="886.5" y="287" font-size="19.99" textLength="75.25" lengthAdjust="spacingAndGlyphs">41217A</text>
<text x="787" y="352.5" font-size="19.62" textLength="61.5" lengthAdjust="spacingAndGlyphs">41092</text>
<text x="986.7" y="359.6" font-size="19.19" textLength="61" lengthAdjust="spacingAndGlyphs">41003</text>
<text x="796.4" y="405.6" font-size="20.06" textLength="56" lengthAdjust="spacingAndGlyphs">41001</text>
<text x="856.5" y="405.6" font-size="20.06" textLength="46.31" lengthAdjust="spacingAndGlyphs">(RH)</text>
<text x="796.4" y="429.8" font-size="20.2" textLength="52.84" lengthAdjust="spacingAndGlyphs">41011</text>
<text x="856.5" y="429.8" font-size="20.2" textLength="46.31" lengthAdjust="spacingAndGlyphs">(LH)</text>
<text x="743.4" y="591" font-size="20.35" textLength="59.6" lengthAdjust="spacingAndGlyphs">41217</text>
<text x="1165.5" y="637.75" font-size="20.71" textLength="107.75" lengthAdjust="spacingAndGlyphs">J440002H</text>
<text x="80" y="162.5" font-size="17.08" textLength="11" lengthAdjust="spacingAndGlyphs">B</text>
<text x="194.5" y="205.5" font-size="16.72" textLength="11" lengthAdjust="spacingAndGlyphs">N</text>
<text x="312.3" y="34.9" font-size="20.64" textLength="71.41" lengthAdjust="spacingAndGlyphs">...............</text>
</g>
<g class="r">
<text x="399.3" y="37.1">※</text>
<text x="428.5" y="136.9">※</text>
<text x="507.5" y="180.1">※</text>
<text x="547" y="197.8">※</text>
<text x="415.7" y="320.4">※</text>
<text x="500.5" y="365.8">※</text>
<text x="532.4" y="376.4">※</text>
<text x="605.6" y="235">※</text>
<text x="635.5" y="259">※</text>
<text x="711.3" y="288.2">※</text>
<text x="594.3" y="407">※</text>
<text x="623.4" y="423.5">※</text>
<text x="704.6" y="475">※</text>
<text x="264.5" y="422.5">※</text>
</g>
</svg>
</body></html>
